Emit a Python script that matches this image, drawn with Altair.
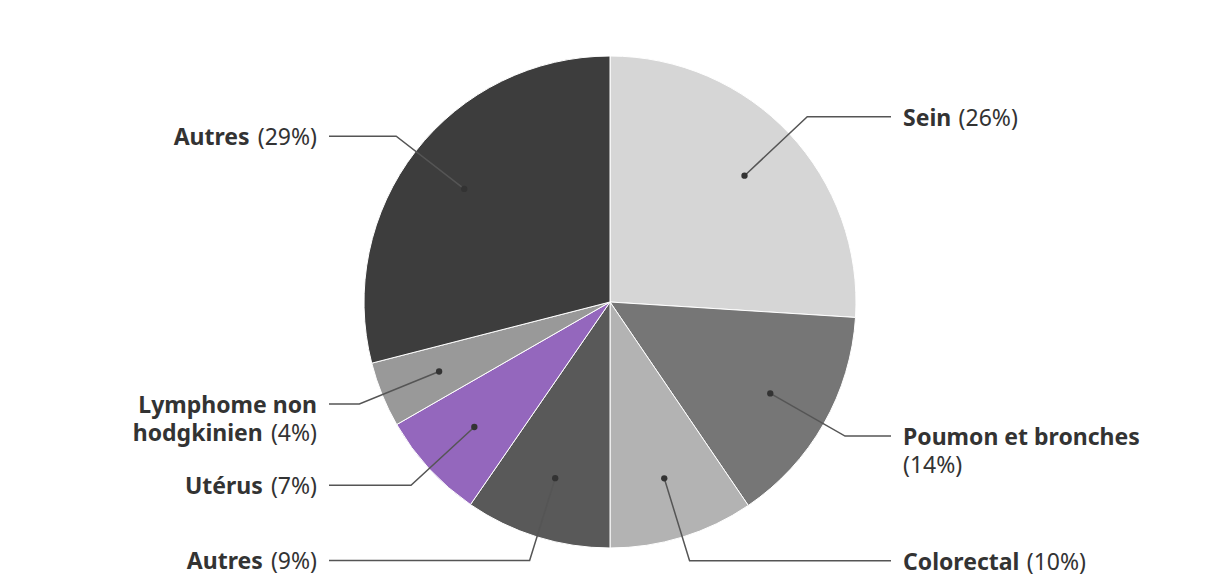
import math
import altair as alt
import pandas as pd

# ---- data ----
ids = ["sein", "poumon", "colorectal", "autres9", "uterus", "lymphome", "autres29"]
values = [26.0, 14.5, 9.5, 9.6, 7.1, 4.3, 29.0]
name_lines = [["Sein"], ["Poumon et bronches", ""], ["Colorectal"], ["Autres"],
              ["Utérus"], ["Lymphome non", "hodgkinien"], ["Autres"]]
pct_labels = ["(26%)", "(14%)", "(10%)", "(9%)", "(7%)", "(4%)", "(29%)"]
colors = ["#d6d6d6", "#767676", "#b3b3b3", "#595959", "#9467bd", "#999999", "#3d3d3d"]

# ---- layout ----
R = 246.0               # pie radius in px
W, H = 1204, 568        # plot size
CX, CY = 602.0, 294.0   # pie centre in plot px
FONT = "Noto Sans"
FS = 23
LINE_H = 28.0

BOLD_W = {"A": .689, "C": .635, "L": .552, "P": .662, "S": .549, "U": .745,
          "a": .604, "b": .647, "c": .524, "d": .647, "e": .602, "é": .602, "h": .665,
          "i": .307, "k": .633, "l": .307, "m": .994, "n": .665, "o": .637, "p": .647,
          "r": .467, "s": .517, "t": .444, "u": .665, "y": .579, " ": .26}
REG_W = {"(": .296, ")": .296, "%": .846, " ": .26}


def measure(text, bold):
    tbl = BOLD_W if bold else REG_W
    w = sum(tbl.get(ch, .572) for ch in text) * FS
    return w * (0.975 if bold else 1.0)


total = sum(values)
arc_df = pd.DataFrame({"id": ids, "value": values, "idx": list(range(len(ids)))})

line_rows, dot_rows, text_rows = [], [], []
cum = 0.0
space_w = measure(" ", False) + 2
for k, (cid, v) in enumerate(zip(ids, values)):
    th = 2 * math.pi * (cum + v / 2) / total
    cum += v
    s, c = math.sin(th), math.cos(th)
    right = s > 0
    dx, dy = 0.75 * s, 0.75 * c
    ex, ey = 1.1 * s, 1.1 * c
    endx = (281.0 / R) * (1 if right else -1)
    dot_rows.append({"x": dx, "y": dy})
    for j, (px, py) in enumerate([(dx, dy), (ex, ey), (endx, ey)]):
        line_rows.append({"id": cid, "o": j, "x": px, "y": py})
    anchor = (293.0 / R) * (1 if right else -1)
    lines = name_lines[k]
    pct = pct_labels[k]
    pw = measure(pct, False)
    for i, ln in enumerate(lines):
        ly = ey - i * LINE_H / R
        last = i == len(lines) - 1
        if right:
            if ln:
                text_rows.append({"x": anchor, "y": ly, "t": ln, "w": "bold", "side": "r"})
            if last:
                off = (measure(ln, True) + space_w) if ln else 0.0
                text_rows.append({"x": anchor + off / R, "y": ly, "t": pct, "w": "normal", "side": "r"})
        else:
            if last:
                text_rows.append({"x": anchor, "y": ly, "t": pct, "w": "normal", "side": "l"})
                if ln:
                    text_rows.append({"x": anchor - (pw + space_w) / R, "y": ly, "t": ln,
                                      "w": "bold", "side": "l"})
            else:
                text_rows.append({"x": anchor, "y": ly, "t": ln, "w": "bold", "side": "l"})

line_df = pd.DataFrame(line_rows)
dot_df = pd.DataFrame(dot_rows)
text_df = pd.DataFrame(text_rows)

xs = alt.Scale(domain=[-CX / R, (W - CX) / R], nice=False, zero=False)
ys = alt.Scale(domain=[-(H - CY) / R, CY / R], nice=False, zero=False)

pie = alt.Chart(arc_df).mark_arc(radius=R, stroke="white", strokeWidth=1).encode(
    x=alt.datum(0, scale=xs, axis=None),
    y=alt.datum(0, scale=ys, axis=None),
    theta=alt.Theta("value:Q", stack=True),
    color=alt.Color("id:N", scale=alt.Scale(domain=ids, range=colors), legend=None),
    order=alt.Order("idx:Q"),
)

leaders = alt.Chart(line_df).mark_line(color="#555555", strokeWidth=1.5).encode(
    x=alt.X("x:Q", scale=xs, axis=None),
    y=alt.Y("y:Q", scale=ys, axis=None),
    detail="id:N",
    order="o:Q",
)

dots = alt.Chart(dot_df).mark_circle(color="#333333", opacity=1, size=40).encode(
    x=alt.X("x:Q", scale=xs, axis=None),
    y=alt.Y("y:Q", scale=ys, axis=None),
)


def text_layer(side, weight):
    return alt.Chart(text_df).transform_filter(
        (alt.datum.side == side) & (alt.datum.w == weight)
    ).mark_text(
        align="left" if side == "r" else "right", baseline="middle", dy=2,
        font=FONT, fontSize=FS, fontWeight=weight, color="#333333",
    ).encode(
        x=alt.X("x:Q", scale=xs, axis=None),
        y=alt.Y("y:Q", scale=ys, axis=None),
        text="t:N",
    )


chart = alt.layer(
    pie, leaders, dots,
    text_layer("r", "bold"), text_layer("r", "normal"),
    text_layer("l", "bold"), text_layer("l", "normal"),
).properties(width=W, height=H, padding=0).configure_view(stroke=None)

chart.save("out.html", embed_options={"renderer": "svg", "actions": False})
